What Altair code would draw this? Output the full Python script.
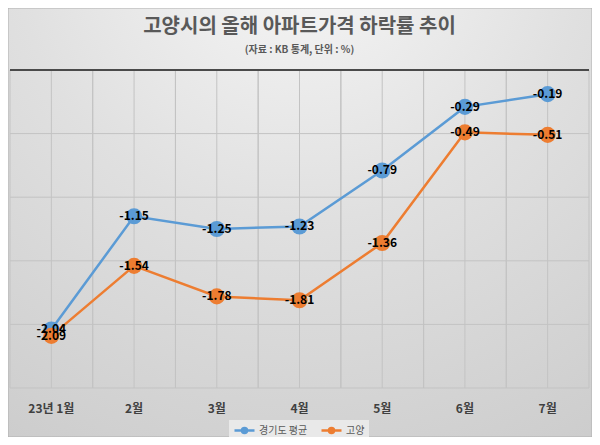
import altair as alt
import pandas as pd

months = ["23년 1월", "2월", "3월", "4월", "5월", "6월", "7월"]
series_names = ["경기도 평균", "고양"]
gyeonggi = [-2.04, -1.15, -1.25, -1.23, -0.79, -0.29, -0.19]
goyang = [-2.09, -1.54, -1.78, -1.81, -1.36, -0.49, -0.51]
y_ticks = [-2.5, -2.0, -1.5, -1.0, -0.5, 0.0]
colors = ["#5B9BD5", "#ED7D31"]

rows = []
for s, vals in zip(series_names, [gyeonggi, goyang]):
    for m, v in zip(months, vals):
        rows.append({"month": m, "series": s, "value": v, "label": f"{v:.2f}"})
df = pd.DataFrame(rows)
month_df = pd.DataFrame({"month": months})
tick_df = pd.DataFrame({"tick": y_ticks})
zero_df = pd.DataFrame({"tick": [0.0]})
bg_df = pd.DataFrame({"k": [0]})

W, H = 579, 318
FONT = "Noto Sans CJK KR"
GRID = "#c3c3c3"

x_axis = alt.Axis(title=None, labelAngle=0, labelFont=FONT, labelFontSize=12,
                  labelFontWeight="bold", labelColor="#404040", ticks=False,
                  tickSize=0, domain=False, grid=False, labelPadding=15, zindex=1)
x_scale = alt.Scale(domain=months, paddingInner=0, paddingOuter=0)
y_scale = alt.Scale(domain=[-2.5, 0], nice=False, zero=False)


def xenc(band=None):
    if band is None:
        return alt.X("month:N", sort=months, scale=x_scale, axis=x_axis)
    return alt.X("month:N", sort=months, scale=x_scale, axis=x_axis, bandPosition=band)


bg = alt.Chart(bg_df).mark_rect(
    fill=alt.RadialGradient(
        gradient="radial",
        stops=[alt.GradientStop(color="#f8f8f8", offset=0),
               alt.GradientStop(color="#e0e0e0", offset=0.45),
               alt.GradientStop(color="#c9c9c9", offset=1)],
        x1=0.5, y1=0, r1=0, x2=0.5, y2=0, r2=1.1),
    stroke="#b0b0b0", strokeWidth=1,
).encode(x=alt.value(-2), x2=alt.value(582), y=alt.value(-62), y2=alt.value(367))

hgrid = alt.Chart(tick_df).mark_rule(color=GRID, strokeWidth=1).encode(
    y=alt.Y("tick:Q", scale=y_scale, axis=None))
vgrid_c = alt.Chart(month_df).mark_rule(color=GRID, strokeWidth=1).encode(x=xenc())
vgrid_s = alt.Chart(month_df).mark_rule(color=GRID, strokeWidth=1).encode(x=xenc(0))
vgrid_e = alt.Chart(month_df).mark_rule(color=GRID, strokeWidth=1).encode(x=xenc(1))
zero_line = alt.Chart(zero_df).mark_rule(color="#4a4a4a", strokeWidth=2).encode(
    y=alt.Y("tick:Q", scale=y_scale, axis=None))

# line with a dot, drawn from the symbol's left edge rightwards (20px wide at size 100)
legend_symbol = "M-1,0L3,0M0.5,0A0.5,0.5 0 1,0 1.5,0A0.5,0.5 0 1,0 0.5,0Z"

base = alt.Chart(df)
y_enc = alt.Y("value:Q", scale=y_scale, axis=None)
color_scale = alt.Scale(domain=series_names, range=colors)

lines = base.mark_line(strokeWidth=2.5).encode(
    x=xenc(), y=y_enc,
    color=alt.Color("series:N", scale=color_scale, sort=series_names,
                    legend=alt.Legend(title=None, orient="none", legendX=219, legendY=350,
                                      direction="horizontal", symbolType=legend_symbol,
                                      symbolSize=100, symbolStrokeWidth=2.5,
                                      labelFont=FONT, labelFontSize=10, labelColor="#595959",
                                      fillColor="#e9e9e9", padding=4, columnPadding=8,
                                      labelOffset=13, zindex=1)),
)
points = base.mark_point(filled=True, size=260, opacity=1).encode(
    x=xenc(), y=y_enc,
    color=alt.Color("series:N", scale=color_scale, legend=None),
)
texts = base.mark_text(font=FONT, fontSize=12, fontWeight="bold", color="#000000").encode(
    x=xenc(), y=y_enc, text="label:N")

chart = alt.layer(bg, hgrid, vgrid_c, vgrid_s, vgrid_e, zero_line, lines, points, texts).properties(
    width=W, height=H,
    padding={"left": 2, "top": 62, "right": 3, "bottom": 49},
    autosize=alt.AutoSizeParams(type="none"),
    title=alt.TitleParams(
        text="고양시의 올해 아파트가격 하락률 추이",
        subtitle="(자료 : KB 통계, 단위 : %)",
        anchor="middle", frame="group", font=FONT, fontSize=20, fontWeight="bold",
        color="#595959", subtitleFont=FONT, subtitleFontSize=10,
        subtitleFontWeight="bold", subtitleColor="#595959", subtitlePadding=8, offset=-47,
        zindex=1),
).configure_view(stroke=None)

chart.save("out.html", embed_options={"renderer": "svg", "actions": False})
